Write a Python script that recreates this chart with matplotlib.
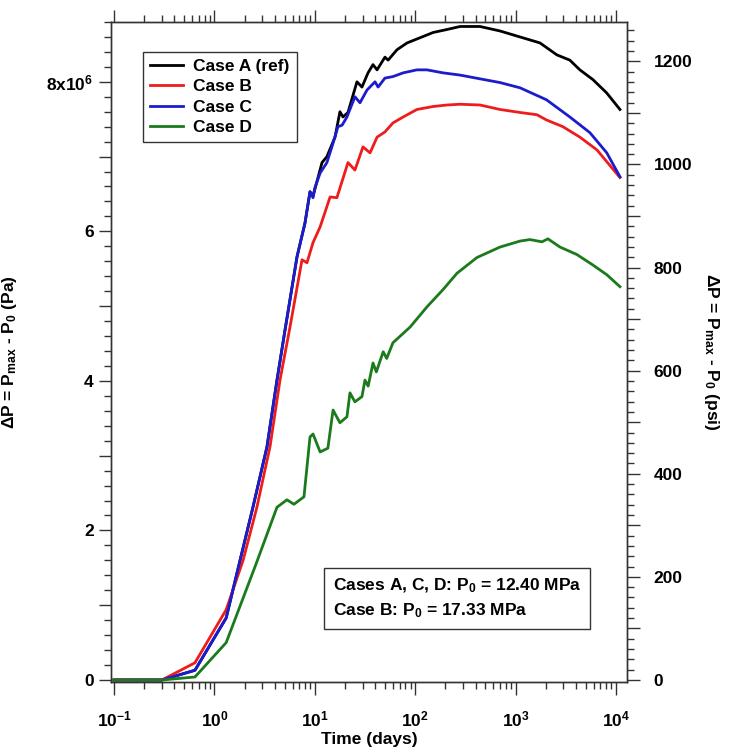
import matplotlib
matplotlib.use("Agg")
import matplotlib.pyplot as plt
from matplotlib.ticker import MultipleLocator, FuncFormatter, LogLocator

plt.rcParams["font.family"] = ["Liberation Sans", "DejaVu Sans"]
plt.rcParams["font.weight"] = "bold"
plt.rcParams["mathtext.fontset"] = "custom"
plt.rcParams["mathtext.rm"] = "Liberation Sans:bold"
plt.rcParams["mathtext.it"] = "Liberation Sans:bold"
plt.rcParams["mathtext.bf"] = "Liberation Sans:bold"
plt.rcParams["mathtext.default"] = "rm"
plt.rcParams["axes.unicode_minus"] = False

PA_PER_PSI = 6894.76

# time (days), delta P (1e6 Pa)
t_a = [0.1, 0.3, 0.64, 1.31, 1.80, 2.42, 3.34, 4.2, 5.05, 6.65, 7.98, 8.96, 9.6,
       11.8, 13.2, 15.9, 17.8, 19.1, 21.4, 26.3, 29.5, 33.9, 38, 41.7, 50, 53.7,
       66, 83, 112, 151, 208, 280, 442, 700, 1107, 1750, 2580, 3470, 4370, 5890,
       8100, 10960]
dp_a = [0, 0, 0.13, 0.83, 1.6, 2.31, 3.12, 4.01, 4.68, 5.66, 6.11, 6.53, 6.47,
        6.92, 7.0, 7.26, 7.60, 7.53, 7.59, 8.0, 7.93, 8.12, 8.23, 8.16, 8.33, 8.29,
        8.43, 8.52, 8.59, 8.66, 8.70, 8.74, 8.74, 8.68, 8.60, 8.52, 8.36, 8.29, 8.16, 8.03,
        7.85, 7.63]

t_b = [0.1, 0.3, 0.64, 1.31, 1.93, 2.65, 3.58, 4.5, 5.66, 7.46, 8.36, 9.6, 11.3,
       14.2, 16.6, 21.4, 25.1, 30.2, 35.5, 41.7, 50, 60, 76, 104, 151, 208, 280,
       442, 700, 1107, 1630, 2030, 2960, 4370, 6460, 10960]
dp_b = [0, 0, 0.23, 0.94, 1.6, 2.31, 3.12, 4.01, 4.72, 5.62, 5.58, 5.85, 6.06,
        6.46, 6.45, 6.92, 6.82, 7.13, 7.05, 7.26, 7.33, 7.45, 7.53, 7.63, 7.67, 7.69, 7.70,
        7.69, 7.63, 7.59, 7.56, 7.49, 7.40, 7.26, 7.09, 6.72]

t_c = [0.1, 0.3, 0.64, 1.31, 1.80, 2.42, 3.34, 4.2, 5.05, 6.65, 7.98, 8.96, 9.6,
       10.0, 11.3, 13.2, 15.2, 17.0, 18.7, 20.9, 25.1, 28.2, 33.1, 39.8, 42.7, 50,
       60, 76, 104, 131, 189, 280, 442, 700, 1107, 2030, 3470, 5500, 8100, 10960]
dp_c = [0, 0, 0.13, 0.83, 1.6, 2.31, 3.12, 4.01, 4.68, 5.66, 6.11, 6.53, 6.45,
        6.58, 6.78, 6.92, 7.18, 7.40, 7.42, 7.53, 7.80, 7.72, 7.89, 8.0, 7.93, 8.05,
        8.07, 8.12, 8.16, 8.16, 8.12, 8.09, 8.04, 7.99, 7.92, 7.76, 7.53, 7.32, 7.05, 6.73]

t_d = [0.1, 0.3, 0.64, 1.31, 2.53, 4.2, 5.28, 6.2, 7.8, 8.96, 9.6, 11.3, 13.5,
       15.2, 17.8, 20.9, 22.4, 25.1, 29.5, 31.6, 34, 38, 41, 48, 52, 60, 89, 131,
       189, 261, 412, 700, 1107, 1390, 1833, 2100, 2770, 4080, 5890, 8100, 10960]
dp_d = [0, 0, 0.04, 0.5, 1.51, 2.31, 2.41, 2.35, 2.45, 3.25, 3.29, 3.05, 3.10,
        3.61, 3.44, 3.52, 3.84, 3.72, 3.79, 4.01, 3.93, 4.24, 4.12, 4.39, 4.30, 4.51,
        4.72, 4.99, 5.22, 5.44, 5.65, 5.79, 5.87, 5.89, 5.86, 5.90, 5.79, 5.69, 5.55,
        5.42, 5.26]

series = [("Case A (ref)", t_a, dp_a, "black"),
          ("Case B", t_b, dp_b, "#ee1c1c"),
          ("Case C", t_c, dp_c, "#1c1ccc"),
          ("Case D", t_d, dp_d, "#1b7a1b")]

fig = plt.figure(figsize=(7.31, 7.55), dpi=100)
ax = fig.add_axes([111 / 731, 73 / 755, 516 / 731, 660 / 755])

for label, t, dp, color in series:
    ax.plot(t, [v * 1e6 for v in dp], color=color, lw=2.0, label=label)

ax.set_xscale("log")
ax.set_xlim(0.0933, 12880)
ax.set_ylim(-0.027e6, 8.80e6)

ax.xaxis.set_major_locator(LogLocator(base=10, numticks=10))
ax.xaxis.set_minor_locator(LogLocator(base=10, subs=range(2, 10), numticks=20))
ax.yaxis.set_major_locator(MultipleLocator(1e6))
ax.yaxis.set_minor_locator(MultipleLocator(0.2e6))


def left_fmt(v, pos):
    n = int(round(v / 1e6))
    if n % 2:
        return ""
    if n == 8:
        return r"8x10$^{6}$"
    return str(n)


ax.yaxis.set_major_formatter(FuncFormatter(left_fmt))

ax.tick_params(axis="both", which="both", direction="out", width=1.0, colors="#333333",
               labelcolor="black", labelsize=12.5)
ax.tick_params(axis="x", which="both", top=True, bottom=True)
ax.tick_params(axis="y", which="both", left=True, right=False)
ax.tick_params(which="major", length=9)
ax.tick_params(which="minor", length=5)
ax.tick_params(axis="x", which="major", pad=11)

for s in ax.spines.values():
    s.set_color("#333333")
    s.set_linewidth(1.0)

ax2 = ax.twinx()
ax2.set_ylim(-0.027e6 / PA_PER_PSI, 8.80e6 / PA_PER_PSI)
ax2.yaxis.set_major_locator(MultipleLocator(100))
ax2.yaxis.set_minor_locator(MultipleLocator(20))
ax2.yaxis.set_major_formatter(FuncFormatter(lambda v, p: "" if int(round(v)) % 200 else str(int(round(v)))))
ax2.tick_params(axis="y", which="both", direction="out", width=1.0, colors="#333333",
                labelcolor="black", labelsize=12.5)
ax2.tick_params(which="major", length=9, pad=10)
ax2.tick_params(which="minor", length=5)
for s in ax2.spines.values():
    s.set_color("#333333")
    s.set_linewidth(1.0)

ax.set_xlabel("Time (days)", fontsize=12.5, fontweight="bold", labelpad=2)
ax.set_ylabel("ΔP = P$_{max}$ - P$_0$ (Pa)", fontsize=12.5, fontweight="bold")
ax.yaxis.set_label_coords(-0.178, 0.5)
ax2.set_ylabel("ΔP = P$_{max}$ - P$_0$ (psi)", fontsize=12.5, fontweight="bold",
               rotation=270, va="center")
ax2.yaxis.set_label_coords(1.163, 0.5)

leg = ax.legend(loc="upper left", bbox_to_anchor=(0.062, 0.9545), borderaxespad=0,
                fancybox=False, edgecolor="#333333", framealpha=1, fontsize=12.5,
                handlelength=1.9, labelspacing=0.3, borderpad=0.4, handletextpad=0.6)
leg.get_frame().set_linewidth(1.0)

ax.text(0.430, 0.160, "Cases A, C, D: P$_0$ = 12.40 MPa\nCase B: P$_0$ = 17.33 MPa",
        transform=ax.transAxes, ha="left", va="top", fontsize=12.5, fontweight="bold",
        linespacing=1.5,
        bbox=dict(boxstyle="square,pad=0.5", facecolor="white", edgecolor="#333333", lw=1.0))

fig.savefig("out.png", dpi=100)
